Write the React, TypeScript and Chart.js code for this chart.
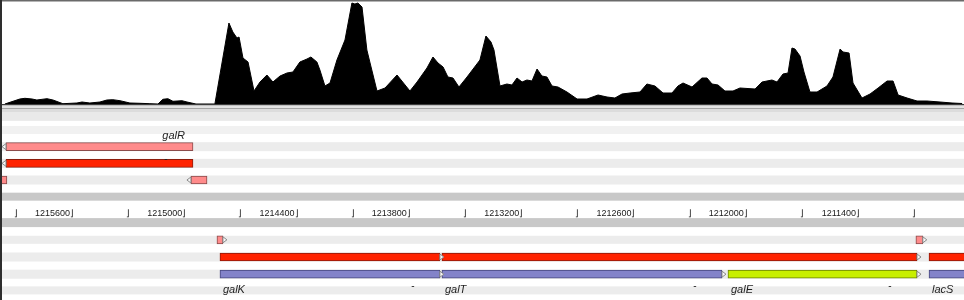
import React, { useEffect, useRef } from 'react';
import { Chart, registerables } from 'chart.js';

Chart.register(...registerables);

// ---------- view ----------
const VIEW_FROM = 1210845;
const VIEW_TO = 1215995;

// ---------- ruler ----------
const rulerTicks = [
  1215900, 1215600, 1215300, 1215000, 1214700, 1214400, 1214100, 1213800, 1213500,
  1213200, 1212900, 1212600, 1212300, 1212000, 1211700, 1211400, 1211100,
];
const rulerLabels = [
  '', '1215600', '', '1215000', '', '1214400', '', '1213800', '',
  '1213200', '', '1212600', '', '1212000', '', '1211400', '',
];

// ---------- coverage track (genomic position, read depth) ----------
const coveragePos = [
  1215969, 1215889, 1215862, 1215824, 1215798, 1215744, 1215712, 1215659, 1215584, 1215557,
  1215515, 1215461, 1215424, 1215392, 1215354, 1215301, 1215247, 1215194, 1215151, 1215125,
  1215098, 1215071, 1215023, 1214996, 1214948, 1214847, 1214772, 1214751, 1214729, 1214718,
  1214697, 1214670, 1214638, 1214606, 1214569, 1214537, 1214499, 1214462, 1214430, 1214393,
  1214355, 1214334, 1214302, 1214286, 1214259, 1214232, 1214195, 1214152, 1214115, 1214099,
  1214083, 1214061, 1214035, 1214018, 1213981, 1213938, 1213874, 1213805, 1213767, 1213714,
  1213682, 1213655, 1213628, 1213602, 1213575, 1213543, 1213500, 1213431, 1213399, 1213372,
  1213356, 1213324, 1213287, 1213260, 1213233, 1213206, 1213180, 1213153, 1213126, 1213100,
  1213073, 1213046, 1213014, 1212966, 1212912, 1212859, 1212800, 1212752, 1212710, 1212672,
  1212629, 1212576, 1212539, 1212496, 1212453, 1212405, 1212373, 1212346, 1212298, 1212245,
  1212218, 1212191, 1212159, 1212122, 1212079, 1212042, 1211961, 1211924, 1211871, 1211844,
  1211812, 1211785, 1211764, 1211748, 1211721, 1211700, 1211668, 1211630, 1211577, 1211545,
  1211507, 1211491, 1211459, 1211438, 1211390, 1211347, 1211304, 1211256, 1211224, 1211197,
  1211149, 1211096, 1211043, 1210973, 1210909, 1210855,
];
const coverageDepth = [
  0, 5, 5.7, 5, 4, 5.3, 4, 0.3, 1, 2,
  1, 2, 4, 4.3, 3.3, 1, 0.7, 0.3, 0, 4.7,
  5.3, 2.7, 3.3, 2, 0, 0, 81, 72, 66, 67,
  46, 42, 13, 22, 29, 22, 28, 31, 32, 42,
  45, 47, 42, 34, 18, 21, 44, 64, 101, 100,
  101, 97, 54, 41, 13, 16, 29, 13, 22, 36,
  47, 41, 37, 27, 26, 17, 27, 44, 68, 62,
  54, 18, 20, 19, 26, 22, 24, 23, 35, 28,
  27, 18, 17, 12, 5, 5, 9, 7, 6, 10,
  11, 12, 20, 18, 11, 11, 18, 21, 17, 26,
  26, 20, 19, 13, 13, 16, 15, 22, 24, 22,
  30, 31, 56, 55, 48, 32, 12, 12, 18, 27,
  55, 52, 51, 21, 6, 10, 16, 23, 23, 9,
  6, 3, 3, 2, 1, 0.5,
];
const COVERAGE_MAX = 104;

// ---------- feature rows ----------
const topRows = ['t0', 't1', 't2', 't3', 't4', 't5'];
const bottomRows = ['b0', 'b1', 'b2', 'b3', 'b4'];

// transcripts / UTR features (pink)
const txLo = [1214964, 1215958, 1214889, 1214804, 1211065];
const txHi = [1215963, 1216060, 1214975, 1214836, 1211102];
const txRow = ['t2', 't4', 't4', 'b1', 'b1'];
const txStrand = ['+', '+', '+', '-', '-'];

// coding sequences (red)
const cdsLo = [1214964, 1213645, 1211096, 1209560];
const cdsHi = [1215963, 1214820, 1213634, 1211032];
const cdsRow = ['t3', 'b2', 'b2', 'b2'];
const cdsStrand = ['+', '-', '-', '-'];

// gene models (blue, selected one highlighted)
const modelName = ['galK', 'galT', 'galE', 'lacS'];
const modelLo = [1213645, 1212138, 1211096, 1209560];
const modelHi = [1214820, 1213634, 1212106, 1211032];
const modelRow = ['b3', 'b3', 'b3', 'b3'];
const modelStrand = ['-', '-', '-', '-'];
const selectedGene = 'galE';

// gene labels
const geneName = ['galR', 'galK', 'galT', 'galE', 'lacS'];
const geneLo = [1214964, 1213645, 1212138, 1211096, 1209560];
const geneHi = [1215963, 1214820, 1213634, 1212106, 1211032];
const geneStrand = ['+', '-', '-', '-', '-'];
const geneLabelRow = ['t1', 'b4', 'b4', 'b4', 'b4'];
const geneNote = ['-', '-', '-', '-', '-'];

// ---------- styles ----------
const FONT = "'Liberation Sans', Arial, Helvetica, sans-serif";
const STYLE = {
  tx: { fill: '#ff8b8b', line: '#8a4c4c' },
  cds: { fill: '#ff2300', line: '#8c1c0c' },
  model: { fill: '#8383c9', line: '#46467c' },
  selected: { fill: '#c8ef00', line: '#6b8204' },
};

function items(lo: number[], hi: number[], row: string[], strand: string[], rows: string[], names?: string[]) {
  const out: any[] = [];
  lo.forEach((l, i) => {
    if (rows.includes(row[i])) {
      out.push({ x: [l, hi[i]], y: row[i], strand: strand[i], sel: names ? names[i] === selectedGene : false });
    }
  });
  return out;
}

function genesFor(rows: string[]) {
  const out: any[] = [];
  geneName.forEach((n, i) => {
    if (rows.includes(geneLabelRow[i])) {
      out.push({ name: n, lo: geneLo[i], hi: geneHi[i], strand: geneStrand[i], row: geneLabelRow[i], note: geneNote[i] });
    }
  });
  return out;
}

const coverageFrame = {
  id: 'coverageFrame',
  afterDraw(chart: any) {
    const { ctx, chartArea } = chart;
    const w = chart.width;
    const b = chartArea.bottom;
    ctx.save();
    ctx.fillStyle = '#6a6a6a';
    ctx.fillRect(0, 0, w, 1.5);
    ctx.fillStyle = '#3a3a3a';
    ctx.fillRect(0, b, w, 1.5);
    ctx.fillStyle = '#e3e3e3';
    ctx.fillRect(0, b + 1.5, w, 2.5);
    ctx.fillStyle = '#a5a5a5';
    ctx.fillRect(0, b + 4, w, 1);
    ctx.fillStyle = '#dcdcdc';
    ctx.fillRect(0, b + 5, w, 3);
    ctx.restore();
  },
};

const trackPlugin = {
  id: 'tracks',
  beforeDraw(chart: any, _a: any, opts: any) {
    const { ctx } = chart;
    const ys = chart.scales.y;
    ctx.save();
    opts.stripes.forEach((s: any, i: number) => {
      const yc = ys.getPixelForValue(i) + (s.dy || 0);
      ctx.fillStyle = s.c;
      ctx.fillRect(0, yc - s.h / 2, chart.width, s.h);
    });
    ctx.restore();
  },
  afterDatasetsDraw(chart: any, _a: any, opts: any) {
    const { ctx, chartArea } = chart;
    const xs = chart.scales.x;
    const ys = chart.scales.y;
    ctx.save();
    ctx.beginPath();
    ctx.rect(chartArea.left, chartArea.top, chartArea.right - chartArea.left, chartArea.bottom - chartArea.top);
    ctx.clip();
    // arrowheads at 3' ends
    chart.data.datasets.forEach((ds: any, di: number) => {
      const meta = chart.getDatasetMeta(di);
      meta.data.forEach((el: any, j: number) => {
        const it = ds.data[j];
        const pLo = xs.getPixelForValue(it.x[0]);
        const pHi = xs.getPixelForValue(it.x[1]);
        const tip = it.strand === '+' ? pHi : pLo;
        const other = it.strand === '+' ? pLo : pHi;
        const dir = tip > other ? 1 : -1;
        const yc = el.y;
        ctx.beginPath();
        ctx.moveTo(tip, yc - 3);
        ctx.lineTo(tip + dir * 4, yc);
        ctx.lineTo(tip, yc + 3);
        ctx.closePath();
        ctx.fillStyle = '#f7f7f7';
        ctx.fill();
        ctx.strokeStyle = '#8a8a8a';
        ctx.lineWidth = 1;
        ctx.stroke();
      });
    });
    // gene labels and notes
    const rows: string[] = chart.data.labels;
    opts.genes.forEach((g: any) => {
      const p5 = xs.getPixelForValue(g.strand === '+' ? g.lo : g.hi);
      const p3 = xs.getPixelForValue(g.strand === '+' ? g.hi : g.lo);
      const dir = p3 > p5 ? 1 : -1;
      const yc = ys.getPixelForValue(rows.indexOf(g.row)) + opts.labelDy;
      ctx.fillStyle = '#1e1e1e';
      ctx.textBaseline = 'middle';
      ctx.font = `italic 11px ${FONT}`;
      ctx.textAlign = dir > 0 ? 'left' : 'right';
      ctx.fillText(g.name, p5 + (dir > 0 ? 3 : -8), yc);
      const ym = ys.getPixelForValue(opts.noteRow) + opts.noteDy;
      ctx.font = `10px ${FONT}`;
      ctx.textAlign = 'center';
      ctx.fillText(g.note, Math.max(p5, p3) - 27, ym);
    });
    ctx.restore();
  },
};

function barDataset(data: any[], style: any, selStyle?: any) {
  return {
    data,
    grouped: false,
    barThickness: 8,
    borderWidth: 1,
    borderSkipped: false,
    backgroundColor: (c: any) => (selStyle && c.raw && c.raw.sel ? selStyle.fill : style.fill),
    borderColor: (c: any) => (selStyle && c.raw && c.raw.sel ? selStyle.line : style.line),
  };
}

function xScale(extra: any = {}) {
  return { type: 'linear', reverse: true, min: VIEW_FROM, max: VIEW_TO, display: false, ...extra };
}

function useChart(ref: React.RefObject<HTMLCanvasElement | null>, make: () => any) {
  useEffect(() => {
    if (!ref.current) return;
    const chart = new Chart(ref.current, make());
    return () => chart.destroy();
  }, []);
}

const baseOptions = {
  animation: false,
  responsive: false,
  maintainAspectRatio: false,
  devicePixelRatio: 1,
  events: [],
};

export default function App() {
  const covRef = useRef<HTMLCanvasElement>(null);
  const topRef = useRef<HTMLCanvasElement>(null);
  const botRef = useRef<HTMLCanvasElement>(null);

  useChart(covRef, () => ({
    type: 'line',
    data: {
      datasets: [
        {
          data: coveragePos.map((p, i) => ({ x: p, y: coverageDepth[i] })),
          fill: 'origin',
          backgroundColor: '#000',
          borderColor: '#000',
          borderWidth: 1,
          pointRadius: 0,
          tension: 0,
        },
      ],
    },
    options: {
      ...baseOptions,
      layout: { padding: { left: 0, right: 0, top: 0, bottom: 8 } },
      scales: { x: xScale(), y: { min: 0, max: COVERAGE_MAX, display: false } },
      plugins: { legend: { display: false }, tooltip: { enabled: false } },
    },
    plugins: [coverageFrame],
  }));

  useChart(topRef, () => ({
    type: 'bar',
    data: {
      labels: topRows,
      datasets: [
        barDataset(items(txLo, txHi, txRow, txStrand, topRows), STYLE.tx),
        barDataset(items(cdsLo, cdsHi, cdsRow, cdsStrand, topRows), STYLE.cds),
      ],
    },
    options: {
      ...baseOptions,
      indexAxis: 'y',
      layout: { padding: 0 },
      scales: { x: xScale(), y: { type: 'category', display: false, offset: true } },
      plugins: {
        legend: { display: false },
        tooltip: { enabled: false },
        tracks: {
          stripes: [
            { h: 9, dy: 3, c: '#e9e9e9' },
            { h: 8, dy: 0, c: '#f1f1f1' },
            { h: 9, dy: 0, c: '#ececec' },
            { h: 9, dy: 0, c: '#ececec' },
            { h: 9, dy: 0, c: '#ececec' },
            { h: 8, dy: 0, c: '#c8c8c8' },
          ],
          genes: genesFor(topRows),
          labelDy: 6,
          noteRow: 3,
          noteDy: -4,
        },
      },
    },
    plugins: [trackPlugin],
  }));

  useChart(botRef, () => ({
    type: 'bar',
    data: {
      labels: bottomRows,
      datasets: [
        barDataset(items(txLo, txHi, txRow, txStrand, bottomRows), STYLE.tx),
        barDataset(items(cdsLo, cdsHi, cdsRow, cdsStrand, bottomRows), STYLE.cds),
        barDataset(items(modelLo, modelHi, modelRow, modelStrand, bottomRows, modelName), STYLE.model, STYLE.selected),
      ],
    },
    options: {
      ...baseOptions,
      indexAxis: 'y',
      layout: { padding: 0 },
      scales: {
        x: xScale({
          display: true,
          position: 'top',
          grid: { display: false, drawTicks: false },
          border: { display: false },
          afterBuildTicks: (s: any) => {
            s.ticks = rulerTicks.map((v) => ({ value: v }));
          },
          afterFit: (s: any) => {
            s.height = 9;
            s.paddingLeft = 0;
            s.paddingRight = 0;
          },
          ticks: {
            autoSkip: false,
            mirror: true,
            align: 'end',
            padding: -6,
            maxRotation: 0,
            minRotation: 0,
            color: '#1a1a1a',
            font: { family: FONT, size: 9 },
            callback: (v: number) => {
              const i = rulerTicks.indexOf(v);
              const t = i >= 0 ? rulerLabels[i] : '';
              return `${t}\u230B`;
            },
          },
        }),
        y: { type: 'category', display: false, offset: true },
      },
      plugins: {
        legend: { display: false },
        tooltip: { enabled: false },
        tracks: {
          stripes: [
            { h: 9, dy: 0, c: '#c8c8c8' },
            { h: 8, dy: 0, c: '#ececec' },
            { h: 9, dy: 0, c: '#ececec' },
            { h: 9, dy: 0, c: '#ececec' },
            { h: 8, dy: -1, c: '#ececec' },
          ],
          genes: genesFor(bottomRows),
          labelDy: -1.5,
          noteRow: 4,
          noteDy: -5.5,
        },
      },
    },
    plugins: [trackPlugin],
  }));

  return (
    <div style={{ position: 'absolute', left: 0, top: 0, width: 964, height: 300, background: '#fff', overflow: 'hidden' }}>
      <canvas ref={topRef} width={964} height={100} style={{ position: 'absolute', left: 0, top: 105 }} />
      <canvas ref={botRef} width={964} height={95} style={{ position: 'absolute', left: 0, top: 205 }} />
      <canvas ref={covRef} width={964} height={112} style={{ position: 'absolute', left: 0, top: 0 }} />
      <div style={{ position: 'absolute', left: 0, top: 0, width: 2, height: 300, background: '#2e2e2e' }} />
    </div>
  );
}
